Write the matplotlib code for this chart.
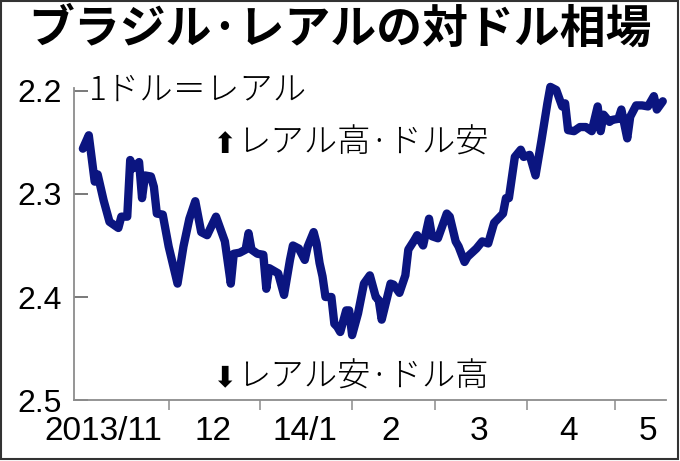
import matplotlib
matplotlib.use("Agg")
import matplotlib.pyplot as plt
import numpy as np
from matplotlib.patches import Rectangle

dates = [
    "2013-11-02", "2013-11-04", "2013-11-06", "2013-11-07", "2013-11-09", "2013-11-11",
    "2013-11-14", "2013-11-15", "2013-11-17", "2013-11-18", "2013-11-19", "2013-11-21",
    "2013-11-22", "2013-11-23", "2013-11-25", "2013-11-26", "2013-11-27", "2013-11-29",
    "2013-12-01", "2013-12-04", "2013-12-06", "2013-12-08", "2013-12-10", "2013-12-12",
    "2013-12-14", "2013-12-17", "2013-12-20", "2013-12-22", "2013-12-23", "2013-12-25",
    "2013-12-27", "2013-12-28", "2013-12-29", "2013-12-31",
    "2014-01-02", "2014-01-03", "2014-01-04", "2014-01-07", "2014-01-09", "2014-01-11",
    "2014-01-12", "2014-01-14", "2014-01-16", "2014-01-17", "2014-01-19", "2014-01-20",
    "2014-01-21", "2014-01-22", "2014-01-23", "2014-01-25", "2014-01-26", "2014-01-27",
    "2014-01-28", "2014-01-30", "2014-01-31",
    "2014-02-01", "2014-02-03", "2014-02-05", "2014-02-07", "2014-02-09", "2014-02-10",
    "2014-02-11", "2014-02-14", "2014-02-15", "2014-02-17", "2014-02-19", "2014-02-20",
    "2014-02-22", "2014-02-23", "2014-02-25", "2014-02-27", "2014-02-28",
    "2014-03-02", "2014-03-05", "2014-03-06", "2014-03-08", "2014-03-09", "2014-03-11",
    "2014-03-12", "2014-03-15", "2014-03-17", "2014-03-19", "2014-03-21", "2014-03-22",
    "2014-03-24", "2014-03-25", "2014-03-26", "2014-03-28", "2014-03-30", "2014-03-31",
    "2014-04-02", "2014-04-04", "2014-04-06", "2014-04-08", "2014-04-09", "2014-04-11",
    "2014-04-13", "2014-04-14", "2014-04-15", "2014-04-17", "2014-04-19", "2014-04-21",
    "2014-04-23", "2014-04-25", "2014-04-26", "2014-04-27", "2014-04-29", "2014-04-30",
    "2014-05-02", "2014-05-03", "2014-05-05", "2014-05-06", "2014-05-08", "2014-05-10",
    "2014-05-12", "2014-05-14", "2014-05-15", "2014-05-17",
]
rate = [
    2.256, 2.243, 2.288, 2.281, 2.306, 2.327,
    2.333, 2.322, 2.322, 2.267, 2.275, 2.269,
    2.304, 2.282, 2.283, 2.293, 2.319, 2.320,
    2.351, 2.387, 2.351, 2.324, 2.307, 2.337,
    2.340, 2.322, 2.346, 2.387, 2.358, 2.357,
    2.354, 2.338, 2.354, 2.358,
    2.359, 2.392, 2.372, 2.377, 2.398, 2.364,
    2.350, 2.353, 2.364, 2.351, 2.337, 2.348,
    2.367, 2.380, 2.400, 2.400, 2.426, 2.429,
    2.434, 2.413, 2.413,
    2.437, 2.416, 2.387, 2.379, 2.400, 2.403,
    2.422, 2.387, 2.388, 2.396, 2.379, 2.354,
    2.345, 2.340, 2.350, 2.324, 2.341,
    2.343, 2.319, 2.322, 2.346, 2.351, 2.366,
    2.361, 2.353, 2.346, 2.348, 2.328, 2.325,
    2.319, 2.304, 2.304, 2.264, 2.257, 2.264,
    2.262, 2.282, 2.248, 2.212, 2.196, 2.199,
    2.215, 2.212, 2.238, 2.239, 2.235, 2.235,
    2.239, 2.215, 2.239, 2.223, 2.230, 2.228,
    2.227, 2.218, 2.246, 2.225, 2.214, 2.214,
    2.215, 2.205, 2.218, 2.210,
]

y_ticks = [2.2, 2.3, 2.4, 2.5]
y_labels = ["2.2", "2.3", "2.4", "2.5"]
month_edges = ["2013-12-01", "2014-01-01", "2014-02-01", "2014-03-01",
               "2014-04-01", "2014-05-01"]
month_mid = ["2013-11-09", "2013-12-16", "2014-01-16", "2014-02-14",
             "2014-03-16", "2014-04-15", "2014-05-12"]
month_labels = ["2013/11", "12", "14/1", "2", "3", "4", "5"]

JP = ["Noto Sans CJK JP", "DejaVu Sans"]
NUM = ["Liberation Sans", "DejaVu Sans"]
GRAY = "#8c8c8c"
NAVY = "#0b1580"

x = np.array(dates, dtype="datetime64[D]")

fig = plt.figure(figsize=(6.8, 4.61), dpi=100)
ax = fig.add_axes([0.1088, 0.1323, 0.8702, 0.6815])

ax.plot(x, rate, color=NAVY, lw=6, solid_joinstyle="round",
        solid_capstyle="round", clip_on=False)

ax.set_ylim(2.5, 2.195)
ax.set_xlim(np.datetime64("2013-10-30"), np.datetime64("2014-05-18"))

for s in ["top", "right"]:
    ax.spines[s].set_visible(False)
for s in ["left", "bottom"]:
    ax.spines[s].set_color(GRAY)
    ax.spines[s].set_linewidth(1.3)
ax.spines["left"].set_bounds(2.5, 2.197)

ax.set_yticks(y_ticks)
ax.set_yticklabels(y_labels, family=NUM, fontsize=23)
ax.tick_params(axis="y", direction="in", length=10, width=1.1, color="#555555",
               pad=9)

ax.set_xticks(np.array(month_edges, dtype="datetime64[D]"))
ax.set_xticklabels([])
ax.tick_params(axis="x", direction="out", length=7, width=1.1, color=GRAY)
for d, lab in zip(month_mid, month_labels):
    ax.text(np.datetime64(d), 2.5 + 0.016, lab, ha="center", va="top",
            family=NUM, fontsize=24)

ytr = ax.get_yaxis_transform()
ax.text(0.025, 2.2, "1ドル＝レアル", transform=ytr,
        ha="left", va="center", family=JP, fontsize=24, fontweight="light")
ax.text(0.233, 2.252, "⬆", transform=ytr,
        ha="left", va="center", family=["DejaVu Sans"], fontsize=21)
ax.text(0.275, 2.251, "レアル高·ドル安", transform=ytr,
        ha="left", va="center", family=JP, fontsize=24, fontweight="light")
ax.text(0.233, 2.479, "⬇", transform=ytr,
        ha="left", va="center", family=["DejaVu Sans"], fontsize=21)
ax.text(0.275, 2.478, "レアル安·ドル高", transform=ytr,
        ha="left", va="center", family=JP, fontsize=24, fontweight="light")

fig.text(0.5, 0.935, "ブラジル·レアルの対ドル相場", ha="center", va="center",
         family=JP, fontsize=33, fontweight="bold")

fig.patches.append(Rectangle((0.002, 0.004), 0.995, 0.994, transform=fig.transFigure,
                             fill=False, edgecolor="#333333", lw=1.5))

fig.savefig("out.png", dpi=100)
